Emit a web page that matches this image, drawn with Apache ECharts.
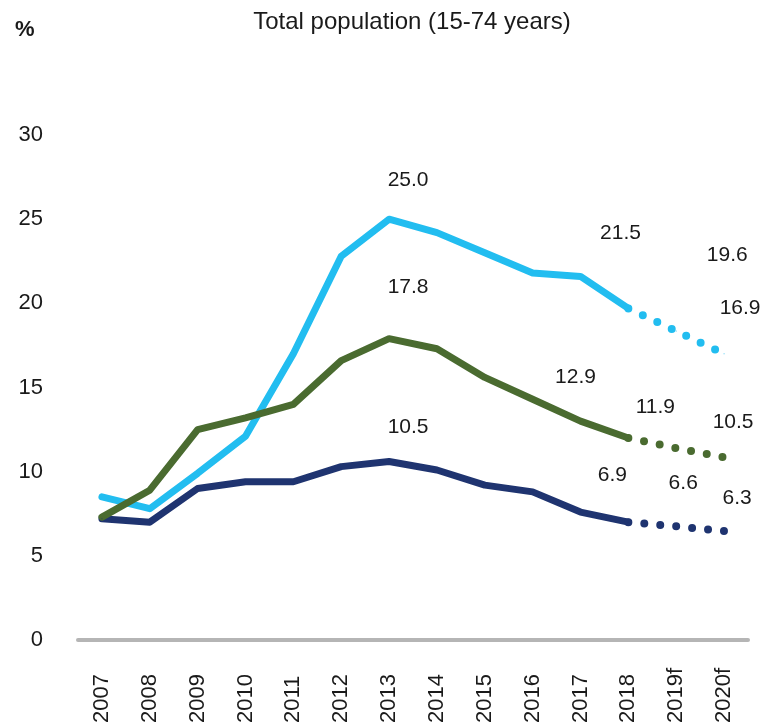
<!DOCTYPE html>
<html>
<head>
<meta charset="utf-8">
<script src="https://cdn.jsdelivr.net/npm/echarts@6/dist/echarts.min.js"></script>
<style>
  html, body { margin: 0; padding: 0; background: #fff; }
  #chart { width: 761px; height: 728px; }
</style>
</head>
<body>
<div id="chart"></div>
<script>
// 年份
const years = ['2007', '2008', '2009', '2010', '2011', '2012', '2013', '2014', '2015', '2016', '2017', '2018', '2019f', '2020f']
// 实际值（实线）
const blueLine = [8.5, 7.8, 9.9, 12.1, 17.0, 22.8, 25.0, 24.2, 23.0, 21.8, 21.6, 19.7, null, null]
const greenLine = [7.3, 8.9, 12.5, 13.2, 14.0, 16.6, 17.9, 17.3, 15.6, 14.3, 13.0, 12.0, null, null]
const navyLine = [7.2, 7.0, 9.0, 9.4, 9.4, 10.3, 10.6, 10.1, 9.2, 8.8, 7.6, 7.0, null, null]
// 预测值（点线）
const blueForecast = [null, null, null, null, null, null, null, null, null, null, null, 19.7, 18.35, 17.0]
const greenForecast = [null, null, null, null, null, null, null, null, null, null, null, 12.0, 11.4, 10.85]
const navyForecast = [null, null, null, null, null, null, null, null, null, null, null, 7.0, 6.75, 6.48]
// 图上标注的数字
const blueNotes = ['', '', '', '', '', '', '25.0', '', '', '', '21.5', '', '19.6', '16.9']
const greenNotes = ['', '', '', '', '', '', '17.8', '', '', '', '12.9', '11.9', '', '10.5']
const navyNotes = ['', '', '', '', '', '', '10.5', '', '', '', '', '6.9', '6.6', '6.3']
const yTicks = [0, 5, 10, 15, 20, 25, 30]

// 标注相对数据点的偏移
const noteOffset = {
  blue: { 6: [19, -39], 10: [40, -43], 12: [51, -76], 13: [16, -46] },
  green: { 6: [19, -51], 10: [-5, -44], 11: [27, -31], 13: [9, -35] },
  navy: { 6: [19, -34], 11: [-16, -47], 12: [7, -43], 13: [13, -33] }
}

const FONT = '"Liberation Sans", Arial, sans-serif'
const colors = { blue: '#22bdf0', green: '#4a6b30', navy: '#1f3470' }

// 把标注挂到数据点上
const withNotes = (values, notes, offsets) => values.map((v, i) => {
  if (v === null || !notes[i]) return v
  return {
    value: v,
    label: {
      show: true,
      formatter: notes[i],
      position: 'inside',
      offset: offsets[i] || [0, -30]
    }
  }
})

const lineSeries = (name, values, notes, dotted) => ({
  name: name,
  type: 'line',
  data: withNotes(values, notes, noteOffset[name]),
  symbol: 'circle',
  symbolSize: 1,
  showSymbol: true,
  silent: true,
  connectNulls: false,
  itemStyle: { color: colors[name] },
  lineStyle: {
    color: colors[name],
    width: dotted ? 8 : 7,
    cap: 'round',
    join: 'round',
    type: dotted ? [0, 16] : 'solid'
  },
  label: {
    show: false,
    color: '#1a1a1a',
    fontFamily: FONT,
    fontSize: 21
  },
  emphasis: { disabled: true },
  animation: false
})

// 实线部分只到2018，其余交给预测线
const solidNotes = notes => notes.map((n, i) => (i <= 11 ? n : ''))
const forecastNotes = notes => notes.map((n, i) => (i >= 12 ? n : ''))

const chart = echarts.init(document.getElementById('chart'), null, { renderer: 'canvas' })
chart.setOption({
  backgroundColor: '#ffffff',
  animation: false,
  title: [{
    text: 'Total population (15-74 years)',
    left: 407,
    top: 5,
    textAlign: 'center',
    textStyle: { fontFamily: FONT, fontSize: 24, fontWeight: 'normal', color: '#1a1a1a' }
  }, {
    text: '%',
    left: 10,
    top: 14,
    textStyle: { fontFamily: FONT, fontSize: 22, fontWeight: 'bold', color: '#1a1a1a' }
  }],
  grid: {
    left: 78,
    right: 13,
    top: 135,
    bottom: 88,
    outerBoundsMode: 'none'
  },
  xAxis: {
    type: 'category',
    data: years,
    boundaryGap: true,
    axisLine: { show: true, lineStyle: { color: '#b5b5b5', width: 4 } },
    axisTick: { show: false },
    axisLabel: {
      interval: 0,
      rotate: 90,
      align: 'left',
      margin: 83,
      color: '#1a1a1a',
      fontFamily: FONT,
      fontSize: 22
    }
  },
  yAxis: {
    type: 'value',
    min: yTicks[0],
    max: yTicks[yTicks.length - 1],
    interval: 5,
    axisLine: { show: false },
    axisTick: { show: false },
    splitLine: { show: false },
    axisLabel: {
      margin: 35,
      color: '#1a1a1a',
      fontFamily: FONT,
      fontSize: 22
    }
  },
  series: [
    lineSeries('navy', navyLine, solidNotes(navyNotes), false),
    lineSeries('navy', navyForecast, forecastNotes(navyNotes), true),
    lineSeries('blue', blueLine, solidNotes(blueNotes), false),
    lineSeries('blue', blueForecast, forecastNotes(blueNotes), true),
    lineSeries('green', greenLine, solidNotes(greenNotes), false),
    lineSeries('green', greenForecast, forecastNotes(greenNotes), true)
  ]
})
</script>
</body>
</html>
